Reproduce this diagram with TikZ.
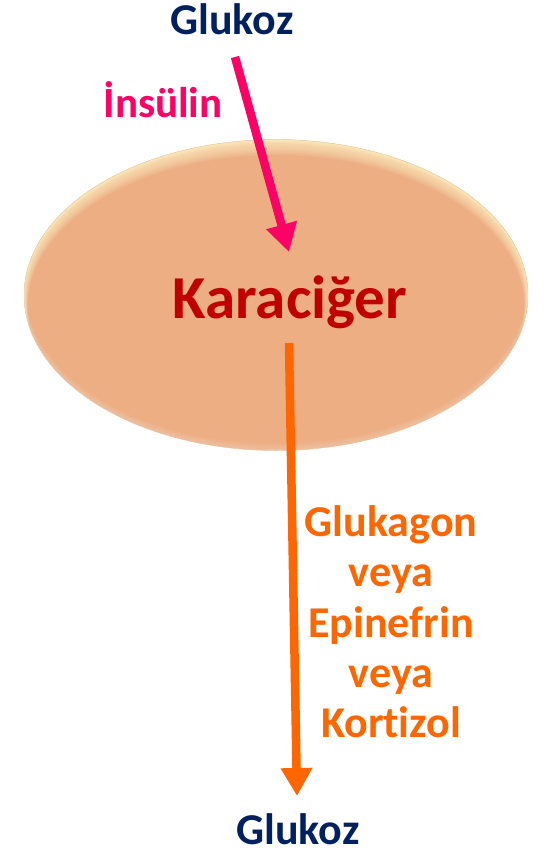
\documentclass[tikz,border=0pt]{standalone}
\usepackage{fontspec}
\setmainfont{Carlito}[Ligatures=NoCommon]
\usetikzlibrary{arrows.meta,shapes.geometric}
\definecolor{navy}{HTML}{002060}
\definecolor{pinkc}{HTML}{FF0066}
\definecolor{orangec}{HTML}{FF6600}
\definecolor{redc}{HTML}{C00000}
\definecolor{liver}{HTML}{EDAE84}
\definecolor{rim}{HTML}{FFF2C4}
\definecolor{edgec}{HTML}{D9A878}
\tikzset{
  lbl/.style={font=\bfseries, inner sep=0pt, align=center},
  arr/.style={line width=8.5pt, -{Triangle[width=30pt,length=28pt]}}
}
\begin{document}
\begin{tikzpicture}[x=1pt,y=-1pt]
\useasboundingbox (0,0) rectangle (544,851);
% liver ellipse
\node[ellipse, minimum width=504pt, minimum height=311pt, fill=liver, inner sep=0pt] (liv) at (276,295) {};
\begin{scope}
  \clip (276,295) ellipse [x radius=252, y radius=155.5];
  \foreach \s in {1,2,...,12}{
    \fill[rim, opacity=0.1, even odd rule] (276,295) ellipse [x radius=252, y radius=155.5]
        (276,295+\s) ellipse [x radius=252-0.3*\s, y radius=155.5-0.3*\s];
  }
  \foreach \s in {1,2,3}{
    \fill[rim, opacity=0.2, even odd rule] (276,295) ellipse [x radius=252, y radius=155.5]
        (276,295+\s) ellipse [x radius=252-0.2*\s, y radius=155.5-0.2*\s];
  }
  \foreach \s in {1,2,...,5}{
    \fill[white, opacity=0.05, even odd rule] (276,295) ellipse [x radius=252, y radius=155.5]
        (276,295-\s) ellipse [x radius=252-0.3*\s, y radius=155.5-0.3*\s];
  }
\end{scope}
\draw[edgec, line width=0.4pt, opacity=0.5] (276,295) ellipse [x radius=252, y radius=155.5];
% texts
\node[lbl, text=navy, font=\bfseries\fontsize{44}{48}\selectfont, anchor=base] (g1) at (232,35) {Glukoz};
\node[lbl, text=pinkc, font=\bfseries\fontsize{43}{48}\selectfont, anchor=base] (ins) at (163,117) {İnsülin};
\node[lbl, text=redc, font=\bfseries\fontsize{61}{66}\selectfont, anchor=base] (kar) at (290,318) {Karaciğer};
\node[lbl, text=orangec, font=\bfseries\fontsize{44}{50.3}\selectfont] (hor) at (391,622) {Glukagon\\veya\\Epinefrin\\veya\\Kortizol};
\node[lbl, text=navy, font=\bfseries\fontsize{44}{48}\selectfont, anchor=base] (g2) at (298,844) {Glukoz};
% arrows
\coordinate (p1) at (235,57);
\coordinate (p2) at (289,252);
\coordinate (o1) at (289,343);
\coordinate (o2) at (297,796);
\draw[arr, pinkc] (p1) -- (p2);
\draw[arr, orangec] (o1) -- (o2);
\end{tikzpicture}
\end{document}
